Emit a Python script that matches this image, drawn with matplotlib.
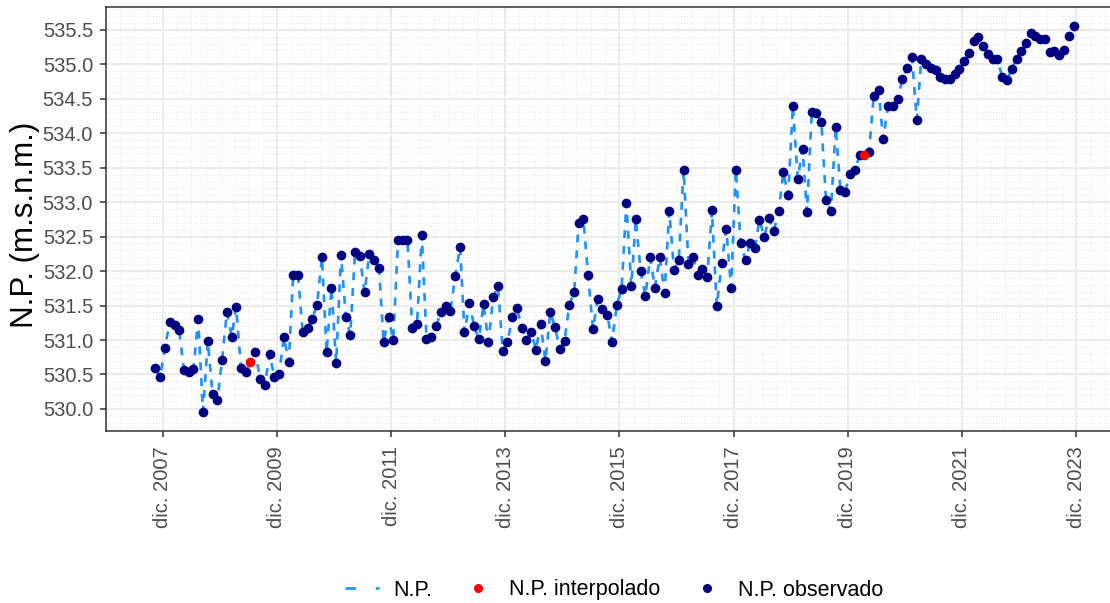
import numpy as np
import pandas as pd
import matplotlib
matplotlib.use("Agg")
import matplotlib.pyplot as plt
import matplotlib.dates as mdates
from matplotlib.lines import Line2D
from matplotlib.ticker import MultipleLocator

plt.rcParams['font.family'] = ['Liberation Sans', 'DejaVu Sans']

# ---------------- data ----------------
first_month = "2007-10-01"
np_values = [
    530.59, 530.47, 530.88, 531.26, 531.22, 531.15, 530.57, 530.53, 530.58, 531.30,
    529.96, 530.98, 530.22, 530.13, 530.71, 531.41, 531.05, 531.48, 530.60, 530.53,
    530.68, 530.83, 530.44, 530.35, 530.80, 530.46, 530.51, 531.04, 530.68, 531.94,
    531.94, 531.11, 531.18, 531.31, 531.51, 532.20, 530.82, 531.76, 530.67, 532.24,
    531.33, 531.07, 532.28, 532.22, 531.69, 532.25, 532.16, 532.05, 530.97, 531.33,
    531.00, 532.45, 532.45, 532.45, 531.17, 531.23, 532.52, 531.02, 531.04, 531.20,
    531.41, 531.50, 531.42, 531.93, 532.35, 531.11, 531.53, 531.21, 531.01, 531.52,
    530.97, 531.62, 531.78, 530.84, 530.97, 531.33, 531.46, 531.18, 531.00, 531.12,
    530.86, 531.23, 530.70, 531.40, 531.19, 530.87, 530.99, 531.51, 531.70, 532.69,
    532.75, 531.94, 531.16, 531.59, 531.45, 531.37, 530.97, 531.51, 531.74, 532.99,
    531.78, 532.75, 532.00, 531.64, 532.20, 531.76, 532.20, 531.68, 532.87, 532.02,
    532.16, 533.47, 532.10, 532.20, 531.95, 532.03, 531.91, 532.88, 531.49, 532.11,
    532.61, 531.75, 533.47, 532.40, 532.16, 532.40, 532.33, 532.74, 532.50, 532.77,
    532.58, 532.87, 533.43, 533.10, 534.40, 533.34, 533.77, 532.85, 534.30, 534.29,
    534.16, 533.03, 532.87, 534.09, 533.18, 533.15, 533.41, 533.46, 533.68, 533.68,
    533.72, 534.54, 534.62, 533.91, 534.40, 534.39, 534.50, 534.78, 534.95, 535.10,
    534.19, 535.07, 535.00, 534.94, 534.91, 534.82, 534.79, 534.79, 534.86, 534.93,
    535.04, 535.16, 535.33, 535.40, 535.26, 535.15, 535.07, 535.07, 534.82, 534.77,
    534.93, 535.08, 535.19, 535.31, 535.45, 535.41, 535.37, 535.37, 535.17, 535.19,
    535.14, 535.20, 535.41, 535.55,
]
interpolated_dates = ["2009-06-15", "2020-03-15"]
tick_years = [2007, 2009, 2011, 2013, 2015, 2017, 2019, 2021, 2023]
tick_labels = ["dic. %d" % y for y in tick_years]
y_ticks = [530.0, 530.5, 531.0, 531.5, 532.0, 532.5, 533.0, 533.5, 534.0, 534.5, 535.0, 535.5]
legend_labels = ["N.P.", "N.P. interpolado", "N.P. observado"]
y_title = "N.P. (m.s.n.m.)"

# ---------------- derived ----------------
dates = pd.date_range(first_month, periods=len(np_values), freq="MS") + pd.Timedelta(days=14)
s = pd.Series(np_values, index=dates)
interp_idx = pd.to_datetime(interpolated_dates)
is_interp = s.index.isin(interp_idx)

W, H = 1110, 603
fig = plt.figure(figsize=(W / 100, H / 100), dpi=100)
ax = fig.add_axes([105.6 / W, (H - 431) / H, 1013.9 / W, 424 / H])

line_col = "#1E90FF"
obs_col = "#000080"
int_col = "#FF0000"
lw_line = 1.9

ax.plot(s.index, s.values, color=line_col, lw=lw_line, linestyle=(0, (3, 3)),
        dash_capstyle='butt', zorder=3)
ax.plot(s.index[~is_interp], s.values[~is_interp], 'o', color=obs_col, ms=7.0,
        mew=0, zorder=4)
ax.plot(s.index[is_interp], s.values[is_interp], 'o', color=int_col, ms=7.0,
        mew=0, zorder=5)

# limits with 5% expansion (ggplot style)
x0, x1 = mdates.date2num(s.index[0]), mdates.date2num(s.index[-1])
dx = (x1 - x0) * 0.05
ax.set_xlim(x0 - dx, x1 + dx)
ymin, ymax = min(np_values), max(np_values)
dy = (ymax - ymin) * 0.05
ax.set_ylim(ymin - dy, ymax + dy)

ax.set_xticks([mdates.date2num(pd.Timestamp(y, 12, 1)) for y in tick_years])
ax.set_xticklabels(tick_labels, rotation=90, color="#4D4D4D", fontsize=14.5)
ax.set_yticks(y_ticks)
ax.set_yticklabels(["%.1f" % v for v in y_ticks], color="#4D4D4D", fontsize=14.5)

# minor grid
ax.yaxis.set_minor_locator(MultipleLocator(0.1))
ax.set_xticks([mdates.date2num(d) for d in pd.date_range("2006-12-01", "2024-09-01", freq="3MS")], minor=True)
ax.grid(True, which='major', color="#EBEBEB", lw=1.5, zorder=0)
ax.grid(True, which='minor', color="#E6E6E6", lw=0.7, linestyle=(0, (1, 2)), zorder=0)
ax.tick_params(which='minor', length=0)
ax.tick_params(which='major', length=4.5, width=1.1, color="#333333")
ax.tick_params(axis='x', which='major', pad=6.5)
ax.tick_params(axis='y', which='major', pad=4.5)
ax.set_axisbelow(True)
for sp in ax.spines.values():
    sp.set_color("#333333")
    sp.set_linewidth(1.1)

fig.text(25 / W, 1 - 225 / H, y_title, rotation=90, ha='center', va='center',
         fontsize=22.5, color="black")

handles = [
    Line2D([], [], color=line_col, lw=lw_line, linestyle=(0, (4, 7.5)), dash_capstyle='butt'),
    Line2D([], [], marker='o', color=int_col, lw=0, ms=6.5, mew=0),
    Line2D([], [], marker='o', color=obs_col, lw=0, ms=6.5, mew=0),
]
leg = fig.legend(handles, legend_labels, loc='center', bbox_to_anchor=(614 / W, (H - 590) / H),
                 ncol=3, frameon=False, fontsize=15.5, handlelength=1.58, columnspacing=1.35,
                 handletextpad=0.67, borderaxespad=0, borderpad=0)

fig.savefig("out.png", dpi=100)
